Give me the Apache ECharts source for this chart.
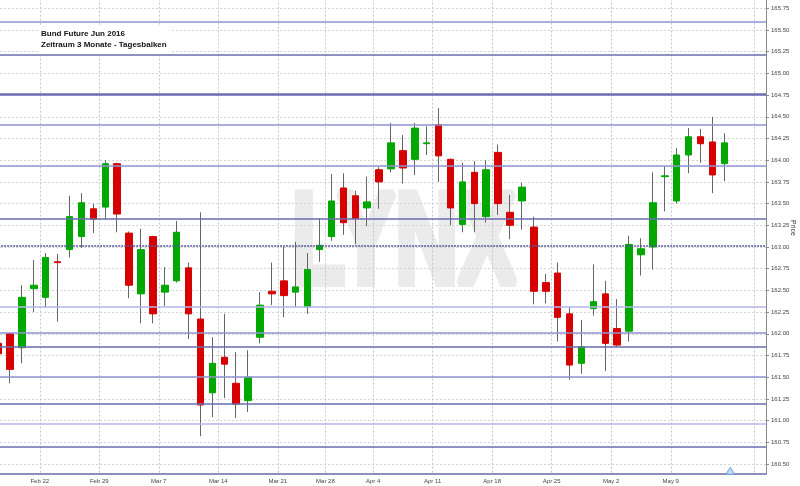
<!DOCTYPE html>
<html><head><meta charset="utf-8">
<script src="https://cdn.jsdelivr.net/npm/echarts@6/dist/echarts.min.js"></script>
<style>html,body{margin:0;padding:0;background:#fff}#c{width:800px;height:486px}</style>
</head><body><div id="c"></div>
<script>
// ---- data ----
const dates = ['2016-02-16','2016-02-17','2016-02-18','2016-02-19',
 '2016-02-22','2016-02-23','2016-02-24','2016-02-25','2016-02-26',
 '2016-02-29','2016-03-01','2016-03-02','2016-03-03','2016-03-04',
 '2016-03-07','2016-03-08','2016-03-09','2016-03-10','2016-03-11',
 '2016-03-14','2016-03-15','2016-03-16','2016-03-17','2016-03-18',
 '2016-03-21','2016-03-22','2016-03-23','2016-03-24',
 '2016-03-29','2016-03-30','2016-03-31','2016-04-01',
 '2016-04-04','2016-04-05','2016-04-06','2016-04-07','2016-04-08',
 '2016-04-11','2016-04-12','2016-04-13','2016-04-14','2016-04-15',
 '2016-04-18','2016-04-19','2016-04-20','2016-04-21','2016-04-22',
 '2016-04-25','2016-04-26','2016-04-27','2016-04-28','2016-04-29',
 '2016-05-02','2016-05-03','2016-05-04','2016-05-05','2016-05-06',
 '2016-05-09','2016-05-10','2016-05-11','2016-05-12','2016-05-13'];
const futureDates = ['2016-05-16','2016-05-17','2016-05-18'];

const opens  = [161.89,162.00,161.84,162.52,162.42,162.83,162.97,163.12,163.44,163.46,
                163.96,163.16,162.46,163.12,162.48,162.61,162.76,162.17,161.32,161.73,
                161.43,161.23,161.96,162.49,162.61,162.48,162.31,162.97,163.12,163.68,
                163.59,163.45,163.89,163.90,164.11,164.01,164.19,164.41,164.01,163.26,
                163.86,163.35,164.09,163.40,163.53,163.23,162.59,162.70,162.23,161.66,
                162.29,162.46,162.06,162.03,162.91,163.00,163.81,163.53,164.06,164.27,
                164.21,163.96];
const closes = [161.77,161.59,162.42,162.56,162.88,162.82,163.35,163.51,163.32,163.96,
                163.38,162.56,162.97,162.23,162.56,163.17,162.23,161.18,161.66,161.65,
                161.19,161.50,162.33,162.46,162.44,162.54,162.74,163.02,163.53,163.28,
                163.33,163.52,163.75,164.20,163.91,164.37,164.20,164.05,163.45,163.75,
                163.50,163.89,163.50,163.25,163.69,162.49,162.49,162.19,161.64,161.85,
                162.37,161.89,161.87,163.03,162.98,163.51,163.82,164.06,164.27,164.19,
                163.83,164.20];
const lows   = [161.70,161.43,161.66,162.25,162.30,162.14,162.88,162.99,163.16,163.32,
                163.17,162.41,162.12,162.12,162.32,162.59,161.94,160.82,161.04,161.26,
                161.03,161.10,161.89,162.33,162.19,162.31,162.23,162.83,163.07,163.14,
                163.03,163.24,163.44,163.86,163.73,163.83,164.06,163.75,163.25,163.17,
                163.17,163.28,163.37,163.09,163.20,162.34,162.35,161.91,161.47,161.54,
                162.21,161.57,161.85,161.91,162.67,162.74,163.41,163.50,163.85,163.97,
                163.62,163.76];
const highs  = [161.95,162.01,162.56,162.85,162.93,162.92,163.59,163.62,163.50,164.00,
                163.97,163.18,163.21,163.13,162.77,163.30,162.82,163.40,161.96,162.23,
                161.79,161.81,162.48,162.82,163.00,163.06,162.93,163.33,163.84,163.85,
                163.65,163.81,163.92,164.43,164.29,164.43,164.39,164.60,164.02,163.97,
                163.99,164.00,164.18,163.60,163.74,163.35,162.69,162.82,162.31,162.16,
                162.80,162.61,162.40,163.13,163.10,163.86,163.93,164.14,164.37,164.36,
                164.50,164.31];

const weekDates  = ['2016-02-22','2016-02-29','2016-03-07','2016-03-14','2016-03-21','2016-03-29',
                    '2016-04-04','2016-04-11','2016-04-18','2016-04-25','2016-05-02','2016-05-09'];
const weekLabels = ['Feb 22','Feb 29','Mar 7','Mar 14','Mar 21','Mar 28',
                    'Apr 4','Apr 11','Apr 18','Apr 25','May 2','May 9'];
const extraGridDates = ['2016-05-18'];
const markerDate = '2016-05-16';
const markerPrice = 160.42;

// horizontal price levels drawn on the chart
const levels = [165.59,165.21,164.76,164.41,163.94,163.32,163.01,162.31,162.01,161.85,161.51,161.19,160.96,160.70];
const levelTone = ['mid','dark','thick','mid','mid','dark','dotted','light','mid','dark','mid','dark','light','dark'];

const titleLines = ['Bund Future Jun 2016','Zeitraum 3 Monate - Tagesbalken'];
const yName = 'Price';
const watermark = 'LYNX';

// ---- chart ----
const cats = dates.concat(futureDates);
const FONT = 'Liberation Sans';
const toneStyle = {
  light:  {color:'#b3b6ea', width:1.5, type:'solid'},
  mid:    {color:'#8f92d2', width:1.5, type:'solid'},
  dark:   {color:'#6a6cae', width:1.5, type:'solid'},
  thick:  {color:'#6d6fb4', width:2.5, type:'solid'},
  dotted: {color:'#55579a', width:1.5, type:[2,1]}
};

const chart = echarts.init(document.getElementById('c'), null, {renderer:'canvas'});
chart.setOption({
  animation: false,
  backgroundColor: '#fff',
  title: {
    text: titleLines.join('\n'),
    left: 40, top: 26,
    padding: [2, 3, 4, 1],
    backgroundColor: '#fff',
    textStyle: {fontSize: 8, fontWeight: 'bold', fontFamily: FONT, color: '#111', lineHeight: 11}
  },
  grid: {left: -7.85, right: 34, top: -13.4, height: 499.1, containLabel: false, outerBoundsMode: 'none'},
  xAxis: [
    {
      type: 'category', data: cats, boundaryGap: true,
      axisLine: {show: false}, axisTick: {show: false}, axisLabel: {show: false},
      splitLine: {
        show: true,
        interval: function (i) { return weekDates.indexOf(cats[i]) >= 0 || extraGridDates.indexOf(cats[i]) >= 0; },
        lineStyle: {color: '#c6c6c6', type: [2, 2], width: 1}
      }
    },
    {
      type: 'category', data: cats, boundaryGap: true, position: 'bottom', offset: -11.7, z: 3,
      axisLine: {show: true, lineStyle: {color: '#6a6aa6', width: 1.5}},
      axisTick: {show: false},
      splitLine: {show: false},
      axisLabel: {
        interval: function (i) { return weekDates.indexOf(cats[i]) >= 0; },
        formatter: function (v) { const k = weekDates.indexOf(v); return k >= 0 ? weekLabels[k] : ''; },
        fontSize: 6, fontFamily: FONT, color: '#444', margin: 4, padding: [0, 12, 0, 0]
      }
    }
  ],
  yAxis: {
    type: 'value', position: 'right', min: 160.25, max: 166, interval: 0.25,
    axisLine: {show: true, lineStyle: {color: '#8a8a8a', width: 1}},
    axisTick: {show: true, length: 3, lineStyle: {color: '#8a8a8a'}},
    axisLabel: {fontSize: 6, fontFamily: FONT, color: '#444', margin: 5, formatter: function (v) { return v.toFixed(2); }},
    splitLine: {show: true, lineStyle: {color: '#d2d2d2', type: [2, 2], width: 1}}
  },
  graphic: [
    {type: 'text', z: -1, x: 404, y: 247, scaleX: 0.67, silent: true,
     style: {text: watermark, fontSize: 130, fontWeight: 'bold', fontFamily: FONT,
             fill: '#ebebeb', stroke: '#ebebeb', lineWidth: 8, align: 'center', verticalAlign: 'middle'}},
    {type: 'rect', z: 1, silent: true, shape: {x: 0, y: 474.6, width: 800, height: 12}, style: {fill: '#fff'}},
    {type: 'text', z: 5, x: 793, y: 228, rotation: -Math.PI / 2, silent: true,
     style: {text: yName, fontSize: 7, fontFamily: FONT, fill: '#333', align: 'center', verticalAlign: 'middle'}}
  ],
  series: [
    {
      type: 'line', data: [], z: 1, silent: true, xAxisIndex: 0,
      markLine: {
        symbol: 'none', silent: true, animation: false,
        label: {show: false},
        data: levels.map(function (v, i) { return {yAxis: v, lineStyle: toneStyle[levelTone[i]]}; })
      }
    },
    {
      type: 'candlestick', xAxisIndex: 0, z: 2, silent: true, barWidth: 1,
      data: lows.map(function (l, i) { return [l, l, l, highs[i]]; }),
      itemStyle: {color: '#666', color0: '#666', borderColor: '#666', borderColor0: '#666', borderWidth: 1}
    },
    {
      type: 'candlestick', xAxisIndex: 0, z: 3, barWidth: 7,
      data: opens.map(function (o, i) { const c = closes[i]; return [o, c, Math.min(o, c), Math.max(o, c)]; }),
      itemStyle: {color: '#00a800', color0: '#d60000', borderColor: '#00a800', borderColor0: '#d60000', borderWidth: 1}
    },
    {
      type: 'scatter', xAxisIndex: 0, z: 4, silent: true,
      data: [[markerDate, markerPrice]],
      symbol: 'triangle', symbolSize: [9, 7], symbolOffset: [-6, 0],
      itemStyle: {color: '#b9d5f5', borderColor: '#6d9ad6', borderWidth: 1}
    }
  ]
});
</script>
</body></html>
